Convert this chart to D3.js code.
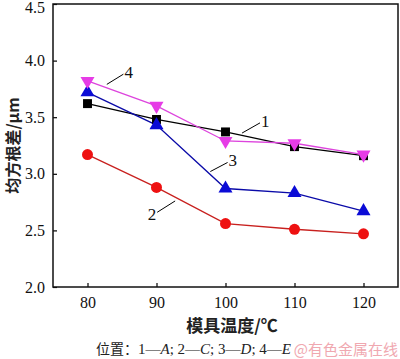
<!DOCTYPE html>
<html><head><meta charset="utf-8">
<script src="https://cdn.jsdelivr.net/npm/d3@7"></script>
<style>body{margin:0;background:#fff}svg{display:block}</style>
</head><body><svg id="c" width="400" height="359"></svg>
<script>
const temps = [80, 90, 100, 110, 120];
const s1 = [3.62, 3.48, 3.37, 3.24, 3.16];
const s2 = [3.17, 2.88, 2.56, 2.51, 2.47];
const s3 = [3.72, 3.43, 2.87, 2.83, 2.67];
const s4 = [3.82, 3.60, 3.29, 3.27, 3.17];
const xTicks = [80, 90, 100, 110, 120];
const yTicks = [2.0, 2.5, 3.0, 3.5, 4.0, 4.5];
const seriesNames = ["1", "2", "3", "4"];
const positions = ["A", "C", "D", "E"];
const xTitle = "模具温度/℃";
const yTitle = "均方根差/μm";
const captionPrefix = "位置：";
const watermark = "@有色金属在线";

const svg = d3.select("#c");
const L = 53, R = 398, T = 4, B = 287;
const x = d3.scaleLinear().domain([75, 125]).range([L, R]);
const y = d3.scaleLinear().domain([2.0, 4.5]).range([B, T]);
const serif = "'Liberation Serif','Times New Roman',serif";
const cjk = "'Noto Sans CJK SC',sans-serif";

// axes with inward ticks
const xa = svg.append("g").attr("transform", `translate(0,${B})`)
  .call(d3.axisBottom(x).tickValues(xTicks).tickSizeInner(-4).tickSizeOuter(0).tickPadding(10).tickFormat(d3.format("d")));
const ya = svg.append("g").attr("transform", `translate(${L},0)`)
  .call(d3.axisLeft(y).tickValues(yTicks).tickSizeInner(-4).tickSizeOuter(0).tickPadding(8).tickFormat(d3.format(".1f")));
[xa, ya].forEach(g => {
  g.selectAll("text").attr("font-family", serif).attr("font-size", 16).attr("fill", "#111");
  g.selectAll("line").attr("stroke", "#000").attr("stroke-width", 1.2);
  g.select(".domain").remove();
});
// keep the top tick label inside the picture
ya.selectAll(".tick").filter(d => d === 4.5).select("text").attr("dy", "0.55em");
svg.append("rect").attr("x", L).attr("y", T).attr("width", R - L).attr("height", B - T)
  .attr("fill", "none").attr("stroke", "#111").attr("stroke-width", 1.5);

const series = [
  {name: seriesNames[0], vals: s1, line: "#000", fill: "#000", shape: "square"},
  {name: seriesNames[1], vals: s2, line: "#c8201e", fill: "#ee1111", shape: "circle"},
  {name: seriesNames[2], vals: s3, line: "#0a0aa8", fill: "#0b0bd6", shape: "tri"},
  {name: seriesNames[3], vals: s4, line: "#dd44dd", fill: "#e63ce6", shape: "dtri"}
];
const lineGen = d3.line().x((d, i) => x(temps[i])).y(d => y(d));
const sym = {
  square: d3.symbol().type(d3.symbolSquare).size(80),
  circle: d3.symbol().type(d3.symbolCircle).size(95),
  tri: d3.symbol().type(d3.symbolTriangle).size(85)
};
series.forEach(s => {
  svg.append("path").attr("d", lineGen(s.vals)).attr("fill", "none")
    .attr("stroke", s.line).attr("stroke-width", 1.3);
});
series.forEach(s => {
  s.vals.forEach((v, i) => {
    const p = svg.append("path").attr("fill", s.fill);
    if (s.shape === "dtri") {
      p.attr("d", sym.tri()).attr("transform", `translate(${x(temps[i])},${y(v)}) rotate(180)`);
    } else {
      p.attr("d", sym[s.shape]()).attr("transform", `translate(${x(temps[i])},${y(v)})`);
    }
  });
});

// series labels with leader lines
const labels = [
  {t: seriesNames[0], x1: 102.4, v1: 3.36, x2: 105.0, v2: 3.45, end: "hi"},
  {t: seriesNames[1], x1: 90.1, v1: 2.66, x2: 92.7, v2: 2.76, end: "lo"},
  {t: seriesNames[2], x1: 97.8, v1: 3.02, x2: 100.3, v2: 3.10, end: "hi"},
  {t: seriesNames[3], x1: 82.8, v1: 3.79, x2: 85.2, v2: 3.88, end: "hi"}
];
labels.forEach(l => {
  svg.append("line").attr("x1", x(l.x1)).attr("y1", y(l.v1)).attr("x2", x(l.x2)).attr("y2", y(l.v2))
    .attr("stroke", "#000").attr("stroke-width", 1);
  const t = svg.append("text").text(l.t)
    .attr("font-family", serif).attr("font-size", 17).attr("fill", "#111");
  if (l.end === "hi") t.attr("x", x(l.x2) + 1).attr("y", y(l.v2) + 4);
  else t.attr("x", x(l.x1) - 1).attr("y", y(l.v1) + 8).attr("text-anchor", "end");
});

svg.append("text").attr("x", 232).attr("y", 332).attr("text-anchor", "middle")
  .attr("font-family", cjk).attr("font-size", 17).attr("font-weight", "bold").attr("fill", "#222").text(xTitle);
svg.append("text").attr("transform", `translate(19,${(T + B) / 2}) rotate(-90)`).attr("text-anchor", "middle")
  .attr("font-family", cjk).attr("font-size", 16).attr("font-weight", "bold").attr("fill", "#222").text(yTitle);

const cap = svg.append("text").attr("x", 96).attr("y", 354)
  .attr("font-family", serif).attr("font-size", 15).attr("fill", "#222");
cap.append("tspan").attr("font-family", cjk).attr("font-size", 14).text(captionPrefix);
seriesNames.forEach((n, i) => {
  cap.append("tspan").text(n + "\u2014");
  cap.append("tspan").attr("font-style", "italic").text(positions[i]);
  if (i < seriesNames.length - 1) cap.append("tspan").text("; ");
});
svg.append("text").attr("x", 398).attr("y", 355).attr("text-anchor", "end")
  .attr("font-family", cjk).attr("font-size", 15).attr("fill", "#f0a8b0").text(watermark);
</script></body></html>
